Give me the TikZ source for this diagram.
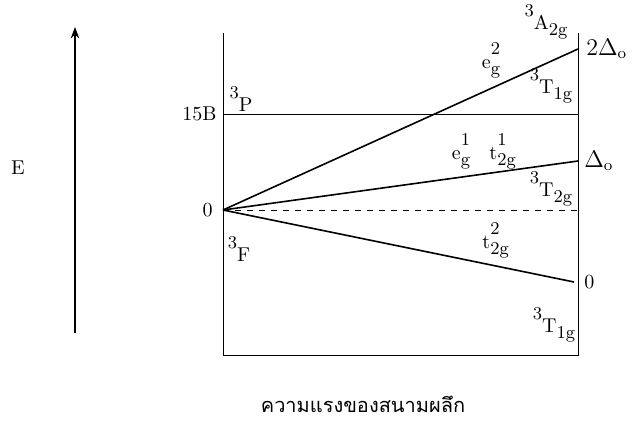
\documentclass[tikz,border=0pt]{standalone}
\usepackage{fontspec}
\newfontfamily\thaifont[Script=Thai]{Loma}
\usetikzlibrary{arrows.meta, calc, positioning}

% term symbol with raised spin label and subscript
\newcommand{\term}[3]{\raisebox{1.5ex}{\small #1}#2\raisebox{-0.7ex}{\small #3}}
% orbital occupancy
\newcommand{\orb}[3]{#1\rlap{\raisebox{-0.7ex}{\small #2}}\raisebox{1.6ex}{\small #3}}

\begin{document}
\begin{tikzpicture}[x=0.5pt, y=-0.5pt, >=Stealth, every node/.style={inner sep=0pt}]
    \useasboundingbox (0,0) rectangle (637,428);
    % energy axis
    \coordinate (Ebot) at (75,333);
    \coordinate (Etop) at (75,27);
    \draw[->, semithick] (Ebot) -- (Etop);
    \node (E) at (18,168) {E};
    % frame
    \coordinate (TL) at (223,33);
    \coordinate (BL) at (223,355);
    \coordinate (BR) at (578,355);
    \coordinate (TR) at (578,33);
    \draw (TL) -- (BL) -- (BR) -- (TR);
    % levels
    \coordinate (O) at (223,210);
    \coordinate (Pl) at (223,114);
    \coordinate (Pr) at (578,114);
    \coordinate (Dr) at (578,210);
    \coordinate (A2g) at (578,49);
    \coordinate (T2g) at (578,161);
    \coordinate (T1g) at (574,282);
    \draw (Pl) -- (Pr);
    \draw[dashed] (O) -- (Dr);
    \draw[thick] (O) -- (A2g);
    \draw[thick] (O) -- (T2g);
    \draw[thick] (O) -- (T1g);
    % labels
    \node[left=3pt of Pl] (lB) {15B};
    \node (lP) at (241,102) {\term{3}{P}{}};
    \node[left=5pt of O] (lO) {0};
    \node (lF) at (239,252) {\term{3}{F}{}};
    \node (lA) at (546,22) {\term{3}{A}{2g}};
    \node (leg2) at (491,60) {\orb{e}{g}{2}};
    \node[right=4pt of A2g] (lD2) {\large $2\Delta_{\mathrm{o}}$};
    \node (lT1) at (551,86) {\term{3}{T}{1g}};
    \node (leg1) at (461,151) {\orb{e}{g}{1}};
    \node (lt1) at (498,151) {\orb{t}{2g}{1}};
    \node[right=3pt of T2g] (lD) {\large $\Delta_{\mathrm{o}}$};
    \node (lT2) at (551,189) {\term{3}{T}{2g}};
    \node (lt2) at (491,240) {\orb{t}{2g}{2}};
    \node[right=5pt of T1g] (lZ) {0};
    \node (lT1b) at (554,325) {\term{3}{T}{1g}};
    \node (lx) at (363,404) {\thaifont ความแรงของสนามผลึก};
\end{tikzpicture}
\end{document}
